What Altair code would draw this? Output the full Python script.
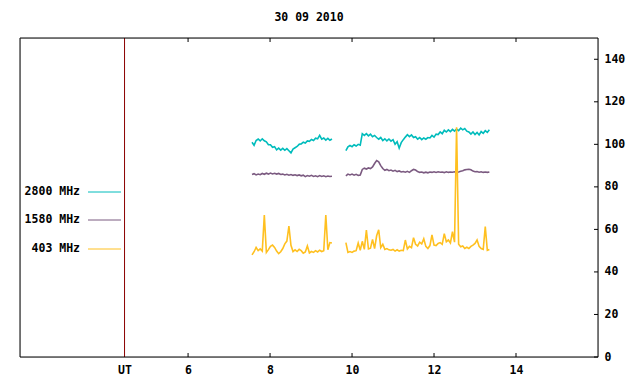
import altair as alt
import pandas as pd

# ---- data ----
series_names = ["2800 MHz", "1580 MHz", "403 MHz"]
series_colors = ["#00bcbc", "#7b5a80", "#ffc020"]

seg1_start, seg2_start, step = 7.56, 9.85, 0.05

cyan_1 = [101.0, 99.5, 101.8, 102.5, 101.6, 102.6, 101.7, 101.2, 99.8, 99.8,
          98.6, 98.9, 97.4, 98.2, 97.3, 98.1, 97.2, 98.0, 97.0, 96.0,
          97.8, 98.4, 99.0, 100.0, 100.2, 101.0, 100.6, 101.6, 101.4, 102.3,
          101.8, 102.9, 102.6, 104.2, 102.4, 103.0, 102.0, 102.8, 101.9, 102.5]
purple_1 = [85.8, 86.2, 85.6, 86.0, 85.7, 86.3, 85.9, 86.4, 86.0, 86.5,
            86.1, 86.4, 86.0, 86.3, 85.8, 86.0, 85.6, 85.9, 85.5, 85.8,
            85.4, 85.7, 85.3, 85.6, 85.2, 85.5, 84.8, 85.3, 85.0, 85.4,
            84.9, 85.2, 84.8, 85.3, 84.9, 85.2, 84.8, 85.1, 84.9, 85.0]
yellow_1 = [48.0, 49.5, 51.5, 50.0, 50.8, 49.8, 66.8, 49.2, 50.5, 52.0,
            52.6, 51.5, 49.8, 48.6, 49.5, 51.0, 53.2, 54.5, 61.6, 52.5,
            49.6, 50.4, 49.6, 50.6, 50.0, 48.8, 49.4, 52.2, 48.9, 49.6,
            49.2, 50.0, 49.4, 50.2, 49.6, 50.0, 66.8, 50.4, 53.8, 53.6]

cyan_2 = [97.0, 98.8, 99.5, 98.9, 99.8, 99.2, 100.0, 99.6, 105.0, 104.2,
          105.0, 104.0, 104.8, 103.6, 104.2, 103.2, 102.4, 103.2, 101.8, 102.6,
          101.6, 102.5, 101.5, 102.2, 100.0, 101.2, 98.2, 100.8, 102.2, 103.4,
          104.5, 103.6, 104.4, 103.2, 103.6, 102.4, 103.2, 102.2, 103.0, 102.4,
          103.2, 103.0, 104.2, 103.4, 104.8, 104.6, 105.8, 105.0, 106.6, 105.8,
          106.8, 106.0, 107.0, 106.2, 107.2, 106.4, 107.6, 106.8, 107.4, 106.2,
          105.8, 104.8, 105.8, 104.6, 105.6, 104.4, 106.0, 105.2, 106.4, 105.6,
          106.8]
purple_2 = [85.2, 86.0, 85.6, 86.0, 85.5, 85.9, 85.4, 85.6, 88.2, 88.8,
            88.4, 88.9, 88.6, 89.4, 91.0, 92.4, 91.8, 90.0, 88.6, 87.8,
            88.2, 87.6, 87.9, 87.4, 87.8, 87.2, 87.5, 87.0, 87.2, 86.9,
            87.3, 86.8, 87.6, 88.2, 87.9, 87.2, 86.8, 87.0, 86.6, 86.9,
            86.6, 87.0, 86.8, 87.1, 86.8, 87.1, 86.9, 87.0, 86.7, 87.1,
            86.8, 87.0, 86.9, 87.1, 86.8, 87.0, 87.3, 87.6, 88.0, 88.2,
            88.3, 88.0, 87.4, 87.1, 87.2, 86.9, 87.1, 86.8, 87.0, 86.8,
            87.0]
yellow_2 = [53.8, 49.2, 49.6, 49.2, 49.8, 50.0, 53.6, 50.2, 54.4, 50.6,
            59.7, 50.8, 51.2, 55.3, 51.0, 57.0, 59.8, 51.4, 53.0, 50.6,
            51.0, 50.4, 50.2, 50.6, 49.8, 50.4, 49.8, 50.2, 50.0, 55.0,
            50.8, 52.0, 51.4, 56.1, 53.0, 52.2, 54.0, 53.2, 55.6, 52.0,
            51.0, 52.4, 57.4, 52.6, 52.4, 53.4, 53.8, 53.0, 58.0, 54.2,
            55.0, 53.6, 58.9, 54.0, 108.0, 53.0, 51.8, 52.2, 51.0, 51.6,
            51.0, 52.0, 52.6, 53.4, 55.0, 52.0, 51.0, 50.6, 61.3, 50.2,
            50.6]

x_tick_values = [6, 8, 10, 12, 14]
ut_position = 4.45
y_tick_values = [0, 20, 40, 60, 80, 100, 120, 140]
x_domain = [1.9, 16.0]
y_domain = [0, 150]

# ---- build table ----
rows = []
for order, (name, s1, s2) in enumerate(zip(series_names,
                                            [cyan_1, purple_1, yellow_1],
                                            [cyan_2, purple_2, yellow_2])):
    for i, v in enumerate(s1):
        rows.append({"t": round(seg1_start + i * step, 3), "v": v, "series": name,
                     "grp": f"{order}-a"})
    for i, v in enumerate(s2):
        rows.append({"t": round(seg2_start + i * step, 3), "v": v, "series": name,
                     "grp": f"{order}-b"})
df = pd.DataFrame(rows)

W, H = 578, 319
FONT = "DejaVu Sans Mono"
FS = 11.5

xscale = alt.Scale(domain=x_domain, nice=False, zero=False)
yscale = alt.Scale(domain=y_domain, nice=False, zero=False)

all_x_labels = [ut_position] + x_tick_values

lines = alt.Chart(df).mark_line(strokeWidth=1.6).encode(
    x=alt.X("t:Q", scale=xscale, title=None,
            axis=alt.Axis(values=all_x_labels, ticks=False, domain=False, grid=False,
                          labelExpr="datum.value < 5 ? 'UT' : format(datum.value, 'd')",
                          labelFont=FONT, labelFontWeight="bold", labelFontSize=FS,
                          labelColor="black", labelPadding=7, labelFlush=False)),
    y=alt.Y("v:Q", scale=yscale, title=None,
            axis=alt.Axis(orient="right", values=y_tick_values, ticks=False, domain=False,
                          grid=False, labelFont=FONT, labelFontWeight="bold",
                          labelFontSize=FS, labelColor="black", labelPadding=6,
                          labelFlush=False)),
    color=alt.Color("series:N", scale=alt.Scale(domain=series_names, range=series_colors),
                    legend=None),
    detail="grp:N",
    order=alt.Order("t:Q"),
)

line_layers = [lines.transform_filter(alt.datum.series == n) for n in series_names]

ut_line = alt.Chart(pd.DataFrame({"t": [ut_position]})).mark_rule(
    color="#8b0000", strokeWidth=1).encode(x=alt.X("t:Q", scale=xscale))

xt = pd.DataFrame({"t": x_tick_values})
xticks_bottom = alt.Chart(xt).mark_rule(color="black").encode(
    x=alt.X("t:Q", scale=xscale), y=alt.value(H), y2=alt.value(H - 4))
xticks_top = alt.Chart(xt).mark_rule(color="black").encode(
    x=alt.X("t:Q", scale=xscale), y=alt.value(0), y2=alt.value(4))
yt = pd.DataFrame({"v": y_tick_values})
yticks = alt.Chart(yt).mark_rule(color="black").encode(
    y=alt.Y("v:Q", scale=yscale), x=alt.value(W), x2=alt.value(W - 4))

frame = alt.Chart(pd.DataFrame({"a": [0]})).mark_rect(
    fill=None, stroke="black", strokeWidth=1).encode(
    x=alt.value(0), x2=alt.value(W), y=alt.value(0), y2=alt.value(H))

legend_layers = []
legend_y = [154, 182, 211]
for name, col, ly in zip(series_names, series_colors, legend_y):
    ld = pd.DataFrame({"label": [name]})
    legend_layers.append(alt.Chart(ld).mark_text(
        align="right", baseline="middle", font=FONT, fontWeight="bold",
        fontSize=FS, color="black").encode(
        text="label:N", x=alt.value(60), y=alt.value(ly)))
    legend_layers.append(alt.Chart(ld).mark_rule(color=col, strokeWidth=1).encode(
        x=alt.value(68), x2=alt.value(101), y=alt.value(ly)))

chart = alt.layer(
    ut_line, *line_layers, xticks_bottom, xticks_top, yticks, frame, *legend_layers
).properties(
    width=W, height=H,
    title=alt.TitleParams("30 09 2010", font=FONT, fontWeight="bold", fontSize=FS,
                          color="black", anchor="middle", offset=14),
    padding={"left": 12, "top": 30, "right": 34, "bottom": 19},
    autosize=alt.AutoSizeParams(type="none"),
).configure_view(stroke=None).configure(background="white")

chart.save("out.html", embed_options={"renderer": "svg", "actions": False})
